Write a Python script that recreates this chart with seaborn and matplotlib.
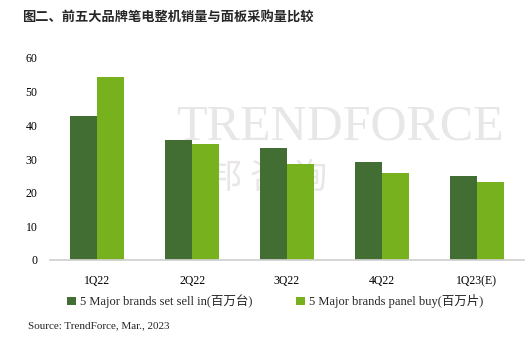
import matplotlib
matplotlib.use("Agg")
import matplotlib.pyplot as plt
import seaborn as sns
import pandas as pd

categories = ["1Q22", "2Q22", "3Q22", "4Q22", "1Q23(E)"]
sell_in = [42.7, 35.6, 33.2, 29.1, 24.9]
panel_buy = [54.3, 34.4, 28.5, 25.9, 23.1]
series_names = ["5 Major brands set sell in(百万台)", "5 Major brands panel buy(百万片)"]
yticks = [0, 10, 20, 30, 40, 50, 60]

df = pd.DataFrame({
    "cat": categories * 2,
    "val": sell_in + panel_buy,
    "series": [series_names[0]] * len(categories) + [series_names[1]] * len(categories),
})

sns.set_theme(style="white")
plt.rcParams["font.family"] = ["Liberation Serif", "Noto Sans CJK SC"]

fig = plt.figure(figsize=(5.32, 3.44), dpi=100)
ax = fig.add_axes([50 / 532, 1 - 260 / 344, 474 / 532, (260 - 58) / 344])

palette = ["#426e33", "#77b11e"]
sns.barplot(data=df, x="cat", y="val", hue="series", palette=palette,
            width=0.57, ax=ax, saturation=1, legend=True, zorder=2,
            linewidth=0, edgecolor="none")

# watermark (behind bars)
ax.text(340 / 532, 1 - 127 / 344, "TRENDFORCE", fontsize=36, color="#e8e6e7",
        family="Liberation Serif", ha="center", va="center", zorder=0.5,
        transform=fig.transFigure, clip_on=False)
ax.text(246 / 532, 1 - 178 / 344, "集 邦 咨 询", fontsize=25, color="#e8e6e7",
        family="Noto Sans CJK SC", ha="center", va="center", zorder=0.5,
        transform=fig.transFigure, clip_on=False)

ax.set_ylim(0, 60)
ax.set_yticks(yticks)
ax.set_xlabel("")
ax.set_ylabel("")
ax.patch.set_alpha(0)
for s in ["left", "right", "top"]:
    ax.spines[s].set_visible(False)
ax.spines["bottom"].set_color("#d0d0d0")
ax.tick_params(axis="both", length=0, labelsize=8.5, colors="#000000")
ax.tick_params(axis="y", pad=9)
ax.tick_params(axis="x", pad=11)

leg = ax.legend(loc="upper center", bbox_to_anchor=(0.475, -0.115), ncol=2,
                frameon=False, fontsize=9, handlelength=0.7, handleheight=0.7,
                handletextpad=0.3, columnspacing=3.5)

fig.text(22 / 532, 1 - 18 / 344, "图二、前五大品牌笔电整机销量与面板采购量比较", fontsize=9.5,
         fontweight="bold", family="Noto Sans CJK SC", va="center", ha="left")
fig.text(28 / 532, 1 - 326 / 344, "Source: TrendForce, Mar., 2023", fontsize=8,
         va="center", ha="left")

fig.savefig("out.png", dpi=100)
